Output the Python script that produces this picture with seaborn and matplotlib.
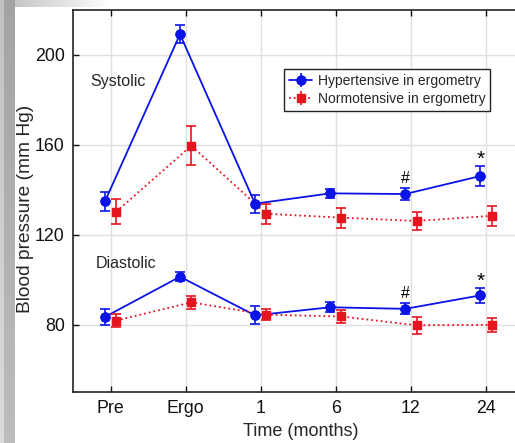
import numpy as np
import pandas as pd
import matplotlib
matplotlib.use("Agg")
import matplotlib.pyplot as plt
import seaborn as sns

# ---- data ----
time_labels = ["Pre", "Ergo", "1", "6", "12", "24"]
hyper_sys = [134.8, 209.2, 133.8, 138.4, 138.1, 146.1]
hyper_sys_err = [4.2, 4.0, 4.0, 2.0, 2.8, 4.4]
normo_sys = [130.2, 159.6, 129.3, 127.6, 126.1, 128.4]
normo_sys_err = [5.5, 8.7, 4.5, 4.4, 4.0, 4.5]
hyper_dia = [83.4, 101.3, 84.1, 87.7, 87.0, 93.0]
hyper_dia_err = [3.7, 2.0, 4.0, 2.3, 2.4, 3.3]
normo_dia = [81.8, 89.9, 84.4, 83.6, 79.7, 79.9]
normo_dia_err = [3.0, 2.9, 2.4, 3.1, 3.7, 3.2]
group_labels = ["Hypertensive in ergometry", "Normotensive in ergometry"]
# significance marks: (time index, y, symbol)
marks = [(4, 145.0, "#"), (5, 153.5, "*"), (4, 94.0, "#"), (5, 99.3, "*")]

sns.set_theme(style="white")
plt.rcParams["font.family"] = ["Liberation Sans", "DejaVu Sans"]

W, H = 515, 443
fig = plt.figure(figsize=(W / 100, H / 100), dpi=100)

# slide-like gray border on left/top
bg = np.ones((H, W, 3))
xs = np.arange(W)
top_fade = np.clip(0.74 + 0.26 * xs / 110.0, 0, 1)
bg[:7, :, :] = top_fade[None, :, None]
col = np.linspace(0.64, 0.74, H)
for c in range(15):
    shade = col + (0.12 if c < 4 else 0.0)
    bg[:, c, :] = shade[:, None]
bgax = fig.add_axes([0, 0, 1, 1], zorder=-5)
bgax.imshow(bg, aspect="auto", extent=[0, 1, 0, 1])
bgax.axis("off")

ax = fig.add_axes([73 / W, 51 / H, 450.5 / W, 382 / H])

blue = "#0a14e6"
red = "#e6141e"
off = 0.075
x = np.arange(len(time_labels))

series = [
    (hyper_sys, hyper_sys_err, -off, blue, "-", "o", group_labels[0]),
    (hyper_dia, hyper_dia_err, -off, blue, "-", "o", None),
    (normo_sys, normo_sys_err, off, red, ":", "s", group_labels[1]),
    (normo_dia, normo_dia_err, off, red, ":", "s", None),
]
handles = []
for vals, errs, dx, c, ls, mk, lab in series:
    ms = 6.5 if mk == "o" else 6
    df = pd.DataFrame({"x": x + dx, "y": vals})
    sns.lineplot(data=df, x="x", y="y", ax=ax, color=c, linestyle=ls,
                 linewidth=1.3, marker=mk, markersize=ms,
                 markeredgecolor=c, markerfacecolor=c, zorder=4)
    ax.errorbar(x + dx, vals, yerr=errs, fmt=mk, color=c, ecolor=c,
                elinewidth=1.2, capsize=3.5, capthick=1.2,
                markersize=ms, zorder=5)
    if lab:
        eb2 = ax.errorbar([], [], yerr=[], fmt=mk + ls, color=c, ecolor=c,
                          elinewidth=1.2, capsize=3.5, capthick=1.2,
                          markersize=ms, linewidth=1.3, label=lab)
        handles.append(eb2)

for i, yv, s in marks:
    ax.text(x[i] - off, yv, s, ha="center", va="center",
            fontsize=15 if s == "*" else 11.5, color="black", zorder=6)

ax.text(-0.27, 188, "Systolic", fontsize=11.5, ha="left", va="center")
ax.text(-0.2, 107, "Diastolic", fontsize=11.5, ha="left", va="center")

ax.set_xlim(-0.5, 5.5)
ax.set_ylim(50, 220)
ax.set_xticks(x)
ax.set_xticklabels(time_labels)
ax.set_yticks([80, 120, 160, 200])
ax.grid(True, color="#e0e0e0", linewidth=1.0)
ax.set_axisbelow(True)
for sp in ax.spines.values():
    sp.set_color("#222222")
    sp.set_linewidth(1.2)
ax.tick_params(axis="both", which="major", labelsize=12.8, colors="#111111",
               direction="in", length=4, width=1, top=True, bottom=True,
               left=True, pad=6)
ax.set_xlabel("Time (months)", fontsize=13)
ax.set_ylabel("Blood pressure (mm Hg)", fontsize=13.8)
ax.xaxis.set_label_coords((300.8 - 73) / 450.5, (392 - 432) / 382)
ax.yaxis.set_label_coords((26 - 73) / 450.5, (392 - 209) / 382)
ax.xaxis.label.set_va("center")
ax.yaxis.label.set_va("center")

leg = ax.legend(handles=handles, labels=group_labels, loc="upper left",
                bbox_to_anchor=(0.468, 0.846), borderaxespad=0, fontsize=10,
                fancybox=False, frameon=True, framealpha=1, edgecolor="#222222",
                handlelength=1.7, handletextpad=0.4, labelspacing=0.3,
                borderpad=0.35)
leg.get_frame().set_linewidth(1.0)

fig.savefig("out.png", dpi=100)
